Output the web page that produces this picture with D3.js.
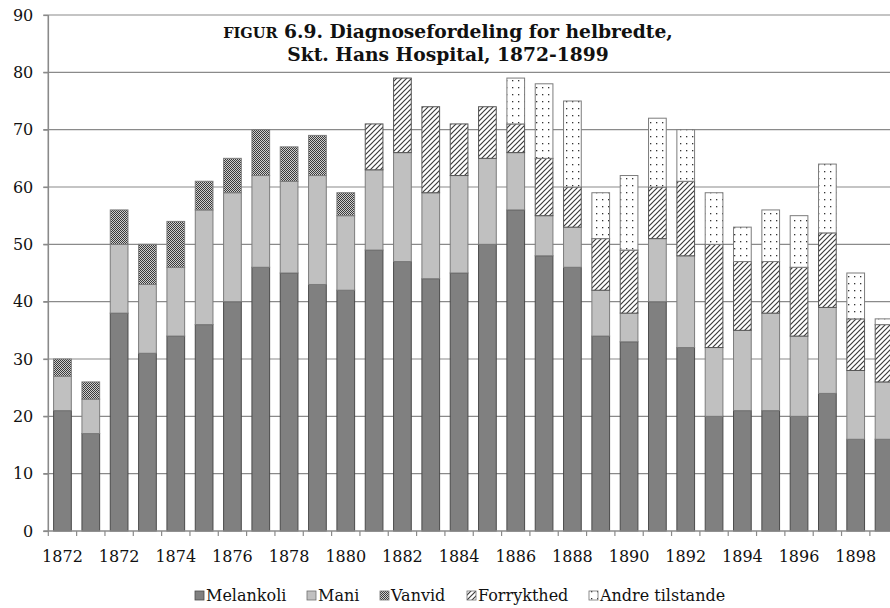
<!DOCTYPE html>
<html><head><meta charset="utf-8">
<script src="https://cdn.jsdelivr.net/npm/d3@7/dist/d3.min.js"></script>
<style>html,body{margin:0;padding:0;background:#fff}svg{display:block}</style>
</head><body><svg id="c" width="890" height="608"></svg>
<script>
// ---- data ----
const categories = ["1872","1871","1872","1873","1874","1875","1876","1877","1878","1879",
  "1880","1881","1882","1883","1884","1885","1886","1887","1888","1889",
  "1890","1891","1892","1893","1894","1895","1896","1897","1898","1899"];
const melankoli  = [21,17,38,31,34,36,40,46,45,43,42,49,47,44,45,50,56,48,46,34,33,40,32,20,21,21,20,24,16,16];
const mani       = [6,6,12,12,12,20,19,16,16,19,13,14,19,15,17,15,10,7,7,8,5,11,16,12,14,17,14,15,12,10];
const vanvid     = [3,3,6,7,8,5,6,8,6,7,4,0,0,0,0,0,0,0,0,0,0,0,0,0,0,0,0,0,0,0];
const forrykthed = [0,0,0,0,0,0,0,0,0,0,0,8,13,15,9,9,5,10,7,9,11,9,13,18,12,9,12,13,9,10];
const andre      = [0,0,0,0,0,0,0,0,0,0,0,0,0,0,0,0,8,13,15,8,13,12,9,9,6,9,9,12,8,1];
const seriesNames = ["Melankoli","Mani","Vanvid","Forrykthed","Andre tilstande"];
const yTicks = [0,10,20,30,40,50,60,70,80,90];
const titleCaps = "FIGUR";
const titleRest = " 6.9. Diagnosefordeling for helbredte,";
const titleLine2 = "Skt. Hans Hospital, 1872-1899";

// ---- build table ----
const seriesValues = [melankoli, mani, vanvid, forrykthed, andre];
const table = categories.map((c, i) => {
  const row = {idx: i, cat: c};
  seriesNames.forEach((s, k) => row[s] = seriesValues[k][i]);
  return row;
});

const W = 890, H = 608;
const FONT = "'DejaVu Serif', 'Liberation Serif', serif";
const svg = d3.select("#c");
const defs = svg.append("defs");

// patterns
const pV = defs.append("pattern").attr("id","pVanvid").attr("patternUnits","userSpaceOnUse").attr("width",2).attr("height",2);
pV.append("rect").attr("width",2).attr("height",2).attr("fill","#cfcfcf");
pV.append("rect").attr("x",0).attr("y",0).attr("width",1).attr("height",1).attr("fill","#3a3a3a");
pV.append("rect").attr("x",1).attr("y",1).attr("width",1).attr("height",1).attr("fill","#3a3a3a");

const pF = defs.append("pattern").attr("id","pForr").attr("patternUnits","userSpaceOnUse").attr("width",5).attr("height",5);
pF.append("rect").attr("width",5).attr("height",5).attr("fill","#fff");
pF.append("path").attr("d","M0,5 L5,0 M-1,1 L1,-1 M4,6 L6,4").attr("stroke","#3c3c3c").attr("stroke-width",1.2);

const pA = defs.append("pattern").attr("id","pAndre").attr("patternUnits","userSpaceOnUse").attr("width",6).attr("height",7);
pA.append("rect").attr("width",6).attr("height",7).attr("fill","#fff");
pA.append("rect").attr("x",2).attr("y",3).attr("width",1.3).attr("height",1.3).attr("fill","#333");

const fills = {
  "Melankoli": "#808080",
  "Mani": "#c0c0c0",
  "Vanvid": "url(#pVanvid)",
  "Forrykthed": "url(#pForr)",
  "Andre tilstande": "url(#pAndre)"
};
const strokes = {
  "Melankoli": "#4a4a4a",
  "Mani": "#7c7c7c",
  "Vanvid": "#7c7c7c",
  "Forrykthed": "#555",
  "Andre tilstande": "#7c7c7c"
};

// scales
const x0 = 48.3, step = 28.33;
const x = d3.scaleBand().domain(table.map(d => d.idx))
  .range([x0, x0 + step * categories.length]).paddingInner(0.375).paddingOuter(0.1875);
const y = d3.scaleLinear().domain([0, 90]).range([531, 15]);

// gridlines
svg.append("g").selectAll("line").data(yTicks.filter(t => t > 0)).join("line")
  .attr("x1", x0 - 5).attr("x2", W).attr("y1", d => y(d)).attr("y2", d => y(d))
  .attr("stroke", "#8a8a8a").attr("stroke-width", 1.2);

// bars
const stack = d3.stack().keys(seriesNames)(table);
const gBars = svg.append("g");
stack.forEach(layer => {
  const key = layer.key;
  gBars.append("g").selectAll("rect").data(layer.filter(d => d[1] - d[0] > 0)).join("rect")
    .attr("x", d => x(d.data.idx))
    .attr("width", x.bandwidth())
    .attr("y", d => y(d[1]))
    .attr("height", d => y(d[0]) - y(d[1]))
    .attr("fill", fills[key])
    .attr("stroke", strokes[key])
    .attr("stroke-width", 1);
});

// y axis
const yAxis = svg.append("g").attr("transform", `translate(${x0},0)`)
  .call(d3.axisLeft(y).tickValues(yTicks).tickSize(5).tickPadding(10).tickFormat(d3.format("d")));
yAxis.select(".domain").attr("stroke", "#8a8a8a").attr("stroke-width", 1.6).attr("d", `M0,${y(90)}V${y(0)}`);
yAxis.selectAll(".tick line").attr("stroke", "#8a8a8a").attr("stroke-width", 1.2);
yAxis.selectAll("text").attr("font-family", FONT).attr("font-size", 16).attr("fill", "#111");

// x axis
const xAxisG = svg.append("g");
xAxisG.append("line").attr("x1", x0 - 5).attr("x2", W).attr("y1", y(0)).attr("y2", y(0))
  .attr("stroke", "#8a8a8a").attr("stroke-width", 1.4);
const boundaries = d3.range(categories.length + 1).map(i => i < categories.length ? x(i) - x.step() * x.paddingInner() / 2 : x(i - 1) + x.bandwidth() + x.step() * x.paddingInner() / 2);
xAxisG.selectAll("line.tk").data(boundaries).join("line").attr("class","tk")
  .attr("x1", d => d).attr("x2", d => d).attr("y1", y(0)).attr("y2", y(0) + 5)
  .attr("stroke", "#8a8a8a").attr("stroke-width", 1.2);
xAxisG.selectAll("text").data(table.filter(d => d.idx % 2 === 0)).join("text")
  .attr("x", d => x(d.idx) + x.bandwidth() / 2).attr("y", 562)
  .attr("text-anchor", "middle").attr("font-family", FONT).attr("font-size", 16).attr("fill", "#111")
  .text(d => d.cat);

// title
const tcx = 448;
const t1 = svg.append("text").attr("x", tcx).attr("y", 38).attr("text-anchor", "middle")
  .attr("font-family", FONT).attr("font-weight", "bold").attr("fill", "#111");
const capsSpan = t1.append("tspan").text(titleCaps);
const restSpan = t1.append("tspan").text(titleRest);
const t2 = svg.append("text").attr("x", tcx).attr("y", 61).attr("text-anchor", "middle")
  .attr("font-family", FONT).attr("font-weight", "bold").attr("fill", "#111").text(titleLine2);
let fs = 18;
function setFs(f) {
  restSpan.attr("font-size", f);
  capsSpan.attr("font-size", f * 0.78);
  t2.attr("font-size", f);
}
setFs(fs);
const w1 = t1.node().getComputedTextLength();
fs = fs * 450 / w1;
setFs(fs);

// legend
const legG = svg.append("g");
const items = seriesNames.map(n => {
  const g = legG.append("g");
  g.append("rect").attr("width", 9).attr("height", 9).attr("y", 591)
    .attr("fill", fills[n]).attr("stroke", n === "Melankoli" ? "#4a4a4a" : "#707070").attr("stroke-width", 0.8);
  const t = g.append("text").attr("x", 11).attr("y", 601).attr("font-family", FONT).attr("font-size", 16)
    .attr("fill", "#111").text(n);
  return {g, w: 11 + t.node().getComputedTextLength()};
});
const gap = 21;
const total = d3.sum(items, d => d.w) + gap * (items.length - 1);
let lx = 460 - total / 2;
items.forEach(it => { it.g.attr("transform", `translate(${Math.round(lx)},0)`); lx += it.w + gap; });
</script>
</body></html>
